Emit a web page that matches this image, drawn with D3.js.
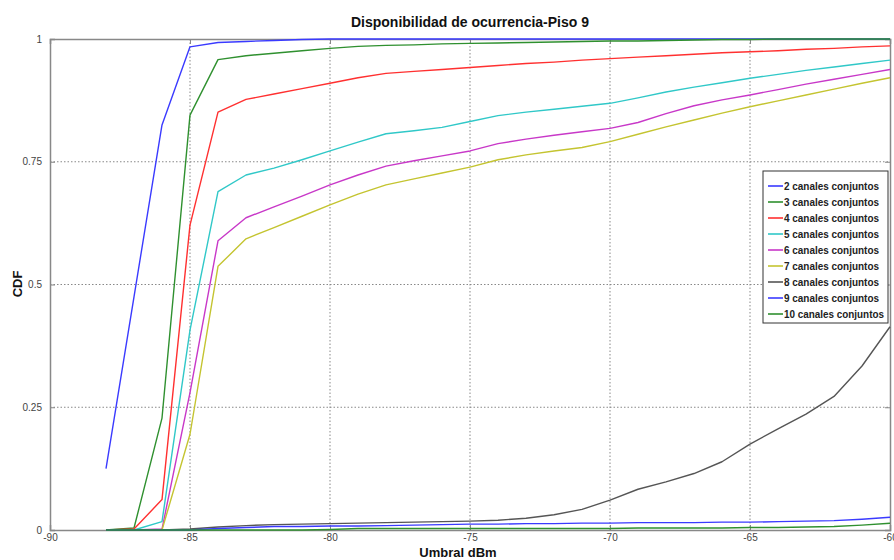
<!DOCTYPE html>
<html><head><meta charset="utf-8">
<script src="https://cdn.jsdelivr.net/npm/d3@7"></script>
<style>body{margin:0;background:#fff}svg{display:block}</style>
</head><body>
<svg id="c" width="894" height="560"></svg>
<script>
const thresholds = [-88,-87,-86,-85,-84,-83,-82,-81,-80,-79,-78,-77,-76,-75,-74,-73,-72,-71,-70,-69,-68,-67,-66,-65,-64,-63,-62,-61,-60];
const seriesNames = ["2 canales conjuntos","3 canales conjuntos","4 canales conjuntos","5 canales conjuntos","6 canales conjuntos","7 canales conjuntos","8 canales conjuntos","9 canales conjuntos","10 canales conjuntos"];
const seriesColors = ["#3a3aff","#2f902f","#ff3030","#30c8c8","#c838c8","#c4c430","#555555","#3a3aff","#2f902f"];
const ch2  = [0.125,0.475,0.825,0.984,0.993,0.995,0.997,0.999,1,1,1,1,1,1,1,1,1,1,1,1,1,1,1,1,1,1,1,1,1];
const ch3  = [0,0.004,0.228,0.845,0.958,0.966,0.971,0.976,0.981,0.985,0.987,0.988,0.99,0.991,0.992,0.993,0.994,0.995,0.996,0.996,0.997,0.998,0.999,0.999,1,1,1,1,1];
const ch4  = [0,0.002,0.062,0.621,0.851,0.877,0.888,0.899,0.91,0.921,0.93,0.934,0.938,0.942,0.946,0.95,0.953,0.957,0.96,0.963,0.966,0.969,0.972,0.974,0.976,0.979,0.981,0.984,0.986];
const ch5  = [0,0,0.017,0.407,0.689,0.723,0.737,0.754,0.772,0.79,0.807,0.813,0.82,0.832,0.844,0.851,0.857,0.863,0.869,0.88,0.892,0.902,0.911,0.92,0.928,0.936,0.943,0.95,0.957];
const ch6  = [0,0,0.002,0.28,0.589,0.636,0.658,0.68,0.703,0.723,0.741,0.752,0.762,0.772,0.787,0.796,0.804,0.811,0.818,0.83,0.848,0.864,0.876,0.886,0.897,0.908,0.918,0.928,0.938];
const ch7  = [0,0,0,0.195,0.537,0.593,0.616,0.639,0.662,0.684,0.703,0.715,0.727,0.739,0.754,0.764,0.772,0.779,0.791,0.806,0.821,0.835,0.849,0.862,0.874,0.886,0.898,0.91,0.921];
const ch8  = [0,0,0,0.002,0.006,0.009,0.011,0.012,0.013,0.014,0.015,0.016,0.017,0.018,0.02,0.024,0.031,0.042,0.061,0.083,0.098,0.115,0.139,0.175,0.206,0.236,0.272,0.334,0.414];
const ch9  = [0,0,0,0,0.003,0.005,0.007,0.007,0.008,0.008,0.009,0.01,0.011,0.012,0.012,0.013,0.013,0.014,0.014,0.015,0.015,0.015,0.016,0.016,0.017,0.018,0.019,0.022,0.026];
const ch10 = [0,0,0,0,0,0,0,0,0.001,0.003,0.003,0.003,0.003,0.003,0.003,0.003,0.003,0.003,0.003,0.004,0.004,0.004,0.004,0.005,0.005,0.006,0.007,0.01,0.0136];
const xTicks = [-90,-85,-80,-75,-70,-65,-60];
const yTicks = [0,0.25,0.5,0.75,1];
const yTickLabels = ["0","0.25","0.5","0.75","1"];

const allSeries = [ch2,ch3,ch4,ch5,ch6,ch7,ch8,ch9,ch10];
const svg = d3.select("#c");
const L=50, R=890, T=39, B=530;
const x = d3.scaleLinear().domain([-90,-60]).range([L,R]);
const y = d3.scaleLinear().domain([0,1]).range([B,T]);

// grid
const grid = svg.append("g");
xTicks.slice(1,-1).forEach(v=>grid.append("line").attr("x1",x(v)).attr("x2",x(v)).attr("y1",T).attr("y2",B)
  .attr("stroke","#888").attr("stroke-width",1).attr("stroke-dasharray","1.5,2"));
yTicks.slice(1,-1).forEach(v=>grid.append("line").attr("y1",y(v)).attr("y2",y(v)).attr("x1",L).attr("x2",R)
  .attr("stroke","#888").attr("stroke-width",1).attr("stroke-dasharray","1.5,2"));

// axes with inward ticks
const fontTick = "Arial, 'Liberation Sans', sans-serif";
const xAxis = d3.axisBottom(x).tickValues(xTicks).tickSize(-5).tickPadding(4).tickFormat(d=>d);
const gx = svg.append("g").attr("transform",`translate(0,${B})`).call(xAxis);
const yAxis = d3.axisLeft(y).tickValues(yTicks).tickSize(-5).tickPadding(8).tickFormat((d,i)=>yTickLabels[i]);
const gy = svg.append("g").attr("transform",`translate(${L},0)`).call(yAxis);
const gxt = svg.append("g").attr("transform",`translate(0,${T})`).call(d3.axisTop(x).tickValues(xTicks).tickSize(-5).tickFormat(""));
const gyr = svg.append("g").attr("transform",`translate(${R},0)`).call(d3.axisRight(y).tickValues(yTicks).tickSize(-5).tickFormat(""));
[gx,gy,gxt,gyr].forEach(g=>{
  g.select(".domain").attr("stroke","#888").attr("stroke-width",1.5);
  g.selectAll(".tick line").attr("stroke","#888");
  g.selectAll("text").attr("font-family",fontTick).attr("font-size",10).attr("fill","#444");
});

// lines
const line = d3.line().x((d,i)=>x(thresholds[i])).y(d=>y(d));
allSeries.forEach((s,k)=>{
  svg.append("path").datum(s).attr("d",line).attr("fill","none")
    .attr("stroke",seriesColors[k]).attr("stroke-width",1.4).attr("stroke-linejoin","round");
});

// title and labels
svg.append("text").attr("x",470).attr("y",27).attr("text-anchor","middle")
  .attr("font-family",fontTick).attr("font-weight","bold").attr("font-size",14).attr("fill","#111")
  .text("Disponibilidad de ocurrencia-Piso 9");
svg.append("text").attr("x",458).attr("y",557).attr("text-anchor","middle")
  .attr("font-family",fontTick).attr("font-weight","bold").attr("font-size",13).attr("fill","#111")
  .text("Umbral dBm");
svg.append("text").attr("transform","translate(22,284) rotate(-90)").attr("text-anchor","middle")
  .attr("font-family",fontTick).attr("font-weight","bold").attr("font-size",13).attr("fill","#111")
  .text("CDF");

// legend
const lg = svg.append("g");
const lx=763, ly=171, lw=125, lh=152;
lg.append("rect").attr("x",lx).attr("y",ly).attr("width",lw).attr("height",lh)
  .attr("fill","#fff").attr("stroke","#333").attr("stroke-width",1);
seriesNames.forEach((n,i)=>{
  const yy = ly+15+i*16;
  lg.append("line").attr("x1",lx+5).attr("x2",lx+20).attr("y1",yy).attr("y2",yy)
    .attr("stroke",seriesColors[i]).attr("stroke-width",1.6);
  lg.append("text").attr("x",lx+21).attr("y",yy).attr("dy","0.35em")
    .attr("font-family",fontTick).attr("font-size",10).attr("font-weight","bold").attr("fill","#222")
    .attr("textLength", i===8 ? 100 : 95).attr("lengthAdjust","spacingAndGlyphs").text(n);
});
</script>
</body></html>
